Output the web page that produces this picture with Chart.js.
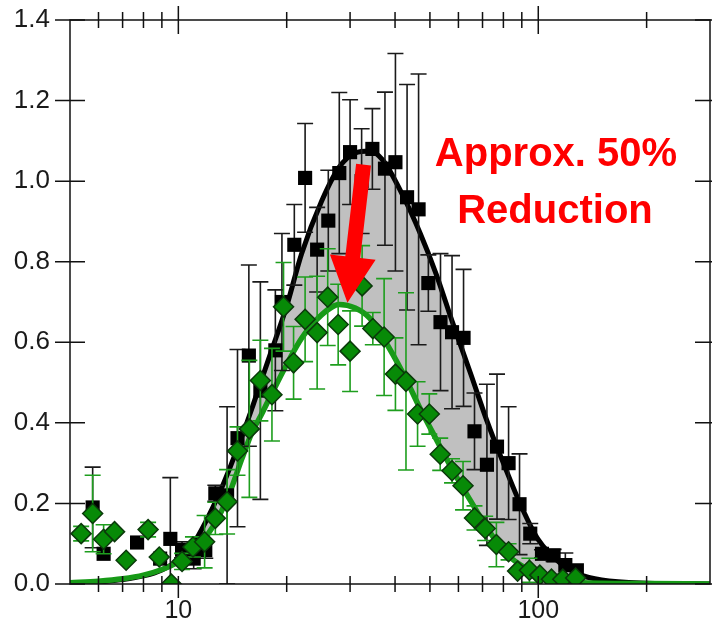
<!DOCTYPE html>
<html><head><meta charset="utf-8">
<script src="https://cdn.jsdelivr.net/npm/chart.js@4/dist/chart.umd.min.js"></script>
<style>html,body{margin:0;padding:0;background:#fff;}#wrap{width:712px;height:623px;position:relative;}</style>
</head><body><div id="wrap"><canvas id="c" width="712" height="623"></canvas></div>
<script>
// ---- data ----
const blackX = [5.78,6.2,7.68,8.9,9.5,10.24,11.03,11.88,12.67,13.66,14.6,15.7,16.9,18.6,19.4,21.0,22.5,24.3,26.1,28.0,30.0,32.3,34.6,37.5,40.1,43.2,46.5,49.5,53.5,57.6,62.0,66.5,72.0,76.8,82.7,88.7,95.0,102.4,110.3,118.9,128];
const blackY = [0.19,0.075,0.103,0.063,0.112,0.085,0.063,0.084,0.225,0.22,0.362,0.567,0.48,0.58,0.70,0.842,1.008,0.83,0.902,1.02,1.072,1.0,1.08,1.031,1.047,0.96,0.93,0.747,0.65,0.625,0.611,0.379,0.296,0.341,0.30,0.198,0.125,0.075,0.071,0.047,0.034];
const blackErr = [0.10,0,0,0,0.152,0.02,0.025,0.02,0.02,0.22,0.22,0.225,0.27,0.15,0.17,0.10,0.135,0.105,0.125,0.20,0.13,0.13,0.10,0.19,0.27,0.28,0.336,0.07,0.17,0.19,0.17,0.095,0.20,0.18,0.14,0.125,0.025,0.01,0.015,0.03,0];

const greenX = [5.37,5.78,6.2,6.65,7.16,8.24,8.85,9.56,10.24,10.98,11.83,12.67,13.66,14.6,15.75,16.9,18.2,19.6,20.9,22.5,24.3,26.0,27.8,30.0,32.4,34.7,37.3,40.1,42.9,46.2,49.8,53.4,57.6,61.8,66.5,71.2,76.5,82.7,87.6,94.5,101,108.8,117,127];
const greenY = [0.125,0.175,0.111,0.13,0.059,0.135,0.067,0.0,0.056,0.092,0.105,0.163,0.204,0.33,0.385,0.505,0.47,0.688,0.549,0.657,0.624,0.712,0.644,0.578,0.74,0.634,0.613,0.521,0.503,0.422,0.422,0.322,0.281,0.244,0.164,0.138,0.098,0.08,0.032,0.034,0.022,0.012,0.012,0.015];
const greenErr = [0.018,0.095,0.036,0,0,0.018,0,0,0.02,0.025,0.065,0.04,0.08,0.06,0.17,0.1,0.115,0.11,0.09,0.105,0.14,0.12,0.1,0.1,0.1,0.04,0.145,0.09,0.22,0.08,0.05,0.04,0.03,0.06,0.03,0.03,0.055,0.02,0,0.03,0,0,0,0];

const curveX = [5,6,7,8,9,10,11,12,13,14,15,16,17,18,20,22,25,28,31,34,37,42,47,52,58,65,72,80,90,100,115,130,150,200,300];
const blackCurveY = [0.002,0.005,0.011,0.02,0.035,0.06,0.1,0.16,0.225,0.295,0.365,0.435,0.505,0.57,0.69,0.82,0.95,1.035,1.07,1.075,1.052,0.965,0.87,0.77,0.645,0.52,0.405,0.30,0.19,0.11,0.052,0.024,0.01,0.002,0];
const greenCurveY = [0.003,0.007,0.013,0.022,0.036,0.055,0.083,0.12,0.17,0.235,0.31,0.375,0.42,0.465,0.545,0.61,0.668,0.694,0.685,0.66,0.612,0.525,0.435,0.36,0.28,0.205,0.14,0.082,0.045,0.022,0.009,0.004,0.002,0.001,0];

const xTickValues = [6,7,8,9,10,20,30,40,50,60,70,80,90,100,200];
const xMajor = [10,100];
const yTickValues = [0,0.2,0.4,0.6,0.8,1.0,1.2,1.4];
const annotationLines = ['Approx. 50%','Reduction'];

// ---- plugins ----
const errorBars = {
  id:'errorBars',
  beforeDatasetDraw(chart,args){
    const ds = chart.data.datasets[args.index];
    if(!ds.errors) return;
    const {ctx, chartArea:a} = chart; const xs=chart.scales.x, ys=chart.scales.y;
    ctx.save();
    ctx.beginPath(); ctx.rect(a.left,a.top,a.right-a.left,a.bottom-a.top); ctx.clip();
    ctx.strokeStyle = ds.errorColor; ctx.lineWidth = 1.6;
    ds.data.forEach((p,i)=>{
      const e = ds.errors[i]; if(!e) return;
      const px = xs.getPixelForValue(p.x);
      const yt = ys.getPixelForValue(p.y+e), yb = ys.getPixelForValue(Math.max(0,p.y-e));
      ctx.beginPath();
      ctx.moveTo(px,yt); ctx.lineTo(px,yb);
      ctx.moveTo(px-8,yt); ctx.lineTo(px+8,yt);
      ctx.moveTo(px-8,yb); ctx.lineTo(px+8,yb);
      ctx.stroke();
    });
    ctx.restore();
  }
};
const frame = {
  id:'frame',
  afterDraw(chart){
    const {ctx, chartArea:a} = chart; const xs=chart.scales.x, ys=chart.scales.y;
    ctx.save();
    ctx.strokeStyle='#111'; ctx.lineWidth=1.5;
    ctx.strokeRect(a.left,a.top,a.right-a.left,a.bottom-a.top);
    ctx.beginPath();
    yTickValues.forEach(v=>{
      const py = ys.getPixelForValue(v);
      ctx.moveTo(a.left-15,py); ctx.lineTo(a.left+15,py);
      ctx.moveTo(a.right-15,py); ctx.lineTo(a.right+15,py);
    });
    xTickValues.forEach(v=>{
      const px = xs.getPixelForValue(v);
      const maj = xMajor.includes(v);
      ctx.moveTo(px,a.bottom-8); ctx.lineTo(px,a.bottom+(maj?14:8));
      ctx.moveTo(px,a.top-(maj?14:8)); ctx.lineTo(px,a.top+(maj?14:8));
    });
    ctx.stroke();
    // arrow
    const tx = xs.getPixelForValue(32.7), ty = ys.getPixelForValue(1.041);
    const hx = xs.getPixelForValue(29.5), hy = ys.getPixelForValue(0.698);
    const dx = hx-tx, dy = hy-ty, L = Math.hypot(dx,dy), ux=dx/L, uy=dy/L, nx=-uy, ny=ux;
    const headLen = 46, sw = 7.5, hw = 23;
    const bx = hx-ux*headLen, by = hy-uy*headLen;
    ctx.fillStyle='#ff0000';
    ctx.beginPath();
    ctx.moveTo(tx+nx*sw,ty+ny*sw);
    ctx.lineTo(bx+nx*sw,by+ny*sw);
    ctx.lineTo(bx+nx*hw,by+ny*hw);
    ctx.lineTo(hx,hy);
    ctx.lineTo(bx-nx*hw,by-ny*hw);
    ctx.lineTo(bx-nx*sw,by-ny*sw);
    ctx.lineTo(tx-nx*sw,ty-ny*sw);
    ctx.closePath(); ctx.fill();
    // text
    ctx.font='bold 40px "Liberation Sans", Arial, sans-serif';
    ctx.textAlign='center'; ctx.textBaseline='alphabetic';
    ctx.fillText(annotationLines[0],556,166);
    ctx.fillText(annotationLines[1],555,223);
    ctx.restore();
  }
};

const pts = (xa,ya)=>xa.map((x,i)=>({x,y:ya[i]}));

new Chart(document.getElementById('c'),{
  data:{datasets:[
    {type:'scatter',label:'treated',data:pts(greenX,greenY),errors:greenErr,errorColor:'#1e9e1e',
     pointStyle:'rectRot',pointRadius:10,backgroundColor:'#078a07',borderColor:'#0b3a0b',borderWidth:1.5,order:0},
    {type:'scatter',label:'control',data:pts(blackX,blackY),errors:blackErr,errorColor:'#1a1a1a',
     pointStyle:'rect',pointRadius:10,backgroundColor:'#000',borderColor:'#000',borderWidth:0,order:1},
    {type:'line',label:'treated fit',data:pts(curveX,greenCurveY),borderColor:'#179a17',borderWidth:5.5,
     pointRadius:0,cubicInterpolationMode:'monotone',fill:false,order:2},
    {type:'line',label:'control fit',data:pts(curveX,blackCurveY),borderColor:'#000',borderWidth:5,
     pointRadius:0,cubicInterpolationMode:'monotone',fill:{target:2,above:'#c0c0c0',below:'#c0c0c0'},order:3}
  ]},
  options:{
    responsive:false,animation:false,devicePixelRatio:1,
    layout:{autoPadding:false,padding:{top:20,right:2,left:0,bottom:-2}},
    plugins:{legend:{display:false},tooltip:{enabled:false}},
    scales:{
      x:{type:'logarithmic',min:5,max:300,
        afterBuildTicks:s=>{s.ticks=xTickValues.map(v=>({value:v}));},
        afterFit:s=>{s.height=41;s.paddingLeft=0;s.paddingRight=0;s.paddingTop=0;s.paddingBottom=0;},
        grid:{display:false,drawTicks:false},border:{display:false},
        ticks:{autoSkip:false,maxRotation:0,padding:12,color:'#1a1a1a',
          font:{family:'"Liberation Sans", Arial, sans-serif',size:25},
          callback:v=>xMajor.includes(v)?String(v):''}},
      y:{type:'linear',min:0,max:1.4,
        afterBuildTicks:s=>{s.ticks=yTickValues.map(v=>({value:v}));},
        afterFit:s=>{s.width=70;s.paddingLeft=0;s.paddingRight=0;s.paddingTop=0;s.paddingBottom=0;},
        grid:{display:false,drawTicks:false},border:{display:false},
        ticks:{padding:20,color:'#1a1a1a',font:{family:'"Liberation Sans", Arial, sans-serif',size:26},
          callback:v=>Number(v).toFixed(1)}}
    }
  },
  plugins:[errorBars,frame]
});
</script></body></html>
